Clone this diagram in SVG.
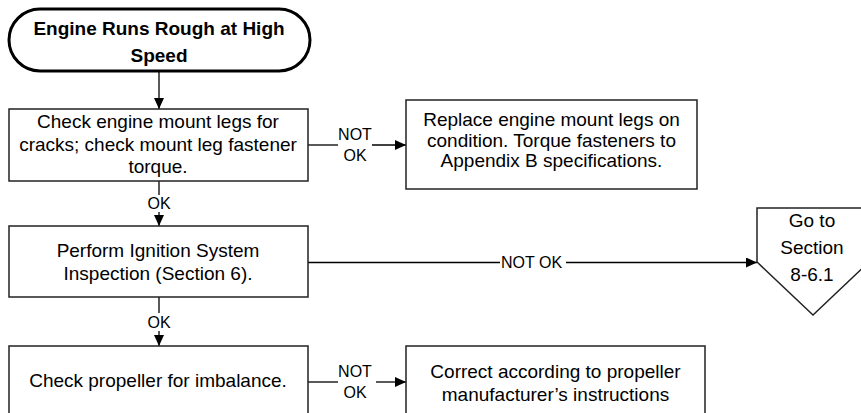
<svg xmlns="http://www.w3.org/2000/svg" width="861" height="413" viewBox="0 0 861 413">
<defs>
<style>
.box{fill:#fff;stroke:#222;stroke-width:1.5}
.term{fill:#fff;stroke:#000;stroke-width:3}
.t{font-family:"Liberation Sans",Arial,sans-serif;font-size:19px;fill:#000;text-anchor:middle}
.tb{font-family:"Liberation Sans",Arial,sans-serif;font-size:19px;font-weight:bold;fill:#000;text-anchor:middle}
.lbl{font-family:"Liberation Sans",Arial,sans-serif;font-size:16px;fill:#000;text-anchor:middle}
.ln{fill:none;stroke:#000;stroke-width:1.3}
</style>
<marker id="ah" markerUnits="userSpaceOnUse" markerWidth="12" markerHeight="10" refX="11" refY="5" orient="auto">
<path d="M0,0 L11,5 L0,10 Z" fill="#000"/>
</marker>
</defs>
<rect width="861" height="413" fill="#fff"/>
<g id="connectors">
<path class="ln" d="M159,71 V109" marker-end="url(#ah)"/>
<path class="ln" d="M159,181 V195"/>
<text class="lbl" x="159" y="209">OK</text>
<path class="ln" d="M159,212 V226" marker-end="url(#ah)"/>
<path class="ln" d="M159,297 V313"/>
<text class="lbl" x="159" y="328">OK</text>
<path class="ln" d="M159,331 V346" marker-end="url(#ah)"/>
<path class="ln" d="M308,145 H338"/>
<text class="lbl" x="355" y="140">NOT</text>
<text class="lbl" x="355" y="161">OK</text>
<path class="ln" d="M372,145 H406" marker-end="url(#ah)"/>
<path class="ln" d="M308,262.5 H500"/>
<text class="lbl" x="501" y="268" style="text-anchor:start">NOT OK</text>
<path class="ln" d="M566,262.5 H757" marker-end="url(#ah)"/>
<path class="ln" d="M308,382 H338"/>
<text class="lbl" x="355" y="377">NOT</text>
<text class="lbl" x="355" y="398">OK</text>
<path class="ln" d="M376,382 H406" marker-end="url(#ah)"/>
</g>
<g id="start">
<rect class="term" x="9" y="9" width="301" height="62" rx="31" ry="31"/>
<text class="tb" x="159" y="35">Engine Runs Rough at High</text>
<text class="tb" x="159" y="62">Speed</text>
</g>
<g id="check-mount">
<rect class="box" x="9" y="109" width="299" height="72"/>
<text class="t" x="158" y="128">Check engine mount legs for</text>
<text class="t" x="158" y="151">cracks; check mount leg fastener</text>
<text class="t" x="158" y="173">torque.</text>
</g>
<g id="replace-mount">
<rect class="box" x="406" y="100" width="291" height="89"/>
<text class="t" x="551.5" y="126">Replace engine mount legs on</text>
<text class="t" x="551.5" y="146.5">condition. Torque fasteners to</text>
<text class="t" x="551.5" y="167">Appendix B specifications.</text>
</g>
<g id="ignition">
<rect class="box" x="9" y="226" width="299" height="71"/>
<text class="t" x="158" y="257">Perform Ignition System</text>
<text class="t" x="158" y="280">Inspection (Section 6).</text>
</g>
<g id="goto">
<path class="box" d="M757,208 H869 V262 L813,315 L757,262 Z"/>
<text class="t" x="812" y="227">Go to</text>
<text class="t" x="812" y="254">Section</text>
<text class="t" x="812" y="281">8-6.1</text>
</g>
<g id="check-prop">
<rect class="box" x="9" y="346" width="299" height="90"/>
<text class="t" x="158" y="387">Check propeller for imbalance.</text>
</g>
<g id="correct-prop">
<rect class="box" x="406" y="346" width="299" height="90"/>
<text class="t" x="555.5" y="378">Correct according to propeller</text>
<text class="t" x="555.5" y="400.5">manufacturer’s instructions</text>
</g>
</svg>
